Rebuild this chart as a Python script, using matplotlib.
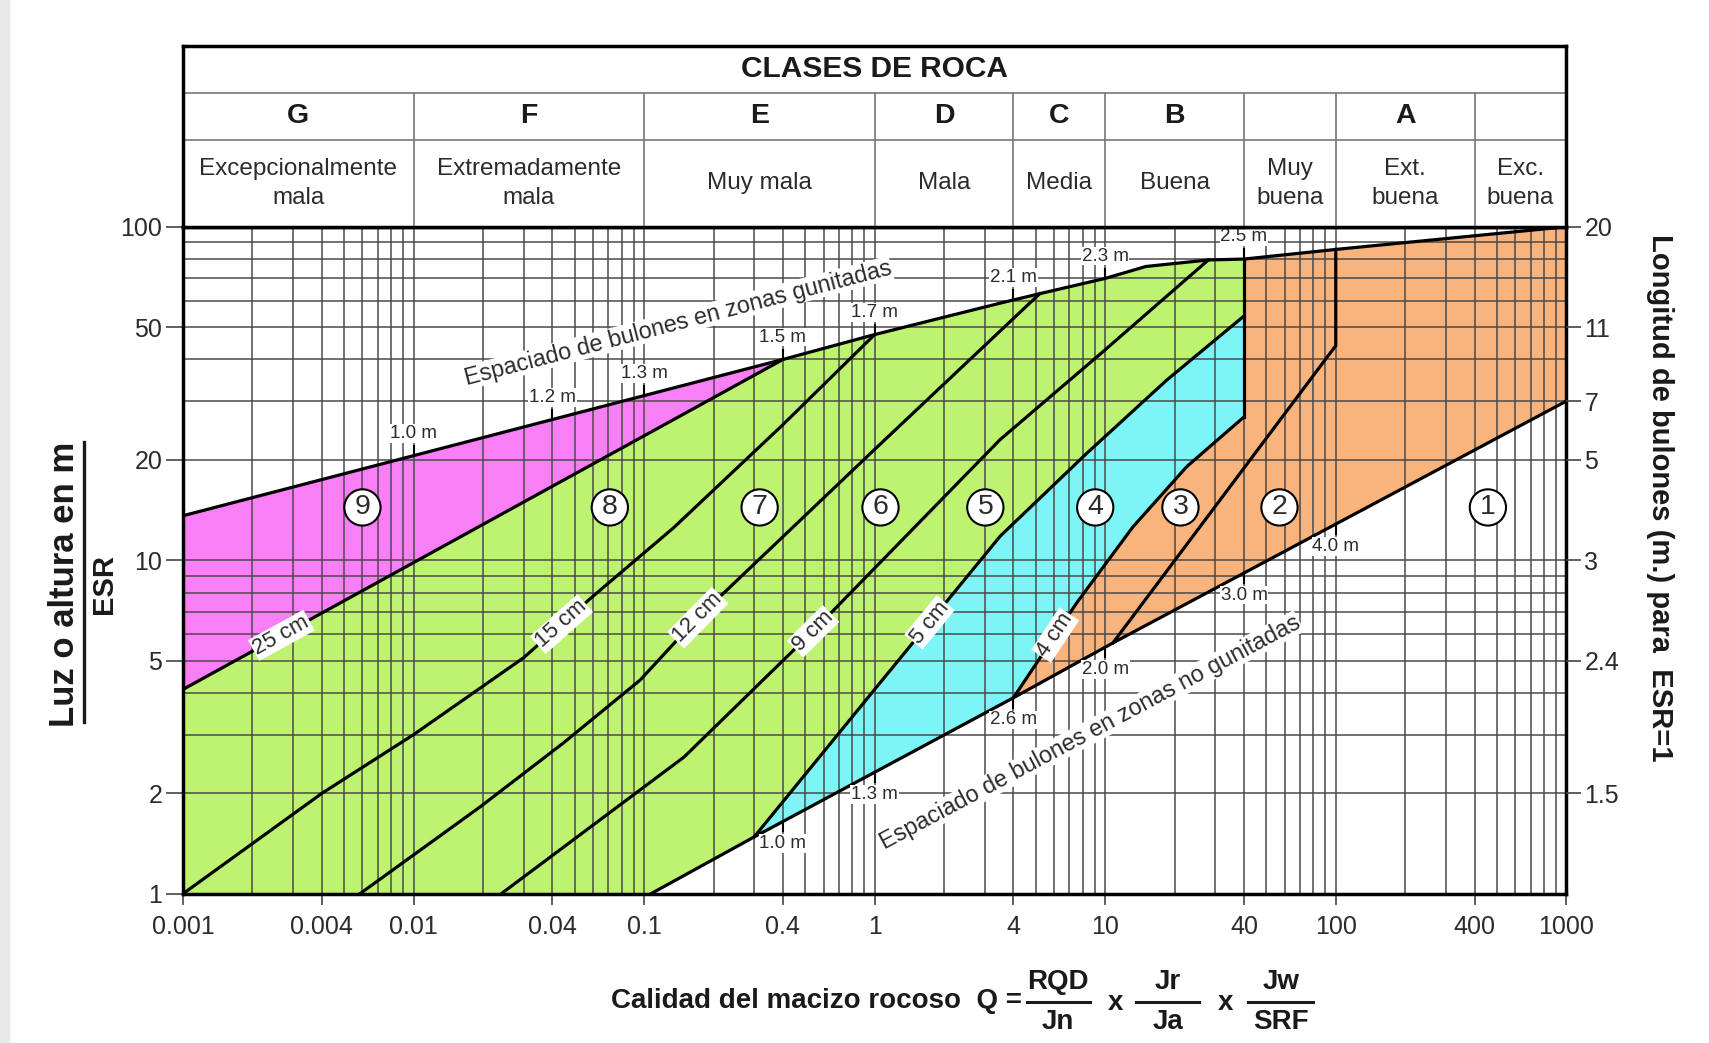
"""Abaco de sostenimiento de Barton (sistema Q) - recreacion con matplotlib."""

import matplotlib

matplotlib.use("Agg")

import matplotlib.pyplot as plt
import numpy as np
from matplotlib.lines import Line2D
from matplotlib.patches import Rectangle
from matplotlib.ticker import NullLocator, FixedLocator

plt.rcParams["font.family"] = ["Liberation Sans", "DejaVu Sans"]

TOP_Q = [0.001, 0.4, 1, 3.5, 5.2, 10, 15, 28, 40, 100, 1000]
TOP_S = [13.6, 40, 47.5, 59, 63, 70, 76, 79.5, 80, 85.5, 100]
BOT_Q = [0.107, 0.3, 4, 10.8, 1000]
BOT_S = [1, 1.48, 3.87, 5.65, 30]
L25_Q = [0.001, 0.4]
L25_S = [4.1, 40]
L15_Q = [0.001, 0.004, 0.01, 0.03, 0.06, 0.134, 0.4, 1]
L15_S = [1, 2.0, 3.0, 5.1, 7.8, 12.5, 25.5, 47.5]
L12_Q = [0.00585, 0.0194, 0.0446, 0.096, 0.17, 1, 5.2]
L12_S = [1, 1.82, 2.83, 4.37, 6.7, 21.5, 63]
L9_Q = [0.024, 0.149, 0.55, 3.5, 9.7, 28]
L9_S = [1, 2.57, 6.2, 23, 42, 79.5]
L5_Q = [0.3, 1.0, 3.5, 8.3, 18.5, 40]
L5_S = [1.48, 4.1, 11.8, 20.9, 34.7, 54]
L4_Q = [4, 7.5, 13.2, 22.6, 40]
L4_S = [3.87, 7.43, 12.6, 19.1, 26.9]
L32_Q = [10.8, 100, 100]
L32_S = [5.65, 44, 85.5]

THICK_LABELS = ["25 cm", "15 cm", "12 cm", "9 cm", "5 cm", "4 cm"]
THICK_Q = [0.00267, 0.0438, 0.171, 0.54, 1.73, 6.07]

SP_TOP_Q = [0.01, 0.04, 0.1, 0.4, 1, 4, 10, 40]
SP_TOP = ["1.0 m", "1.2 m", "1.3 m", "1.5 m", "1.7 m", "2.1 m", "2.3 m", "2.5 m"]
SP_BOT_Q = [0.4, 1, 4, 10, 40, 100]
SP_BOT = ["1.0 m", "1.3 m", "2.6 m", "2.0 m", "3.0 m", "4.0 m"]

REG_NUM = ["9", "8", "7", "6", "5", "4", "3", "2", "1"]
REG_Q = [0.006, 0.071, 0.317, 1.06, 3.02, 9.05, 21.2, 57, 457]
REG_S = [14.4] * 9

CLASS_EDGES = [0.001, 0.01, 0.1, 1, 4, 10, 40, 100, 400, 1000]
CLASS_LETTERS = ["G", "F", "E", "D", "C", "B", "", "A", ""]
CLASS_NAMES = ["Excepcionalmente\nmala", "Extremadamente\nmala", "Muy mala", "Mala",
               "Media", "Buena", "Muy\nbuena", "Ext.\nbuena", "Exc.\nbuena"]

X_TICKS = [0.001, 0.004, 0.01, 0.04, 0.1, 0.4, 1, 4, 10, 40, 100, 400, 1000]
X_TICKLABELS = ["0.001", "0.004", "0.01", "0.04", "0.1", "0.4", "1", "4", "10",
                "40", "100", "400", "1000"]
Y_TICKS = [1, 2, 5, 10, 20, 50, 100]
R_TICKS = [2, 5, 10, 20, 30, 50, 100]
R_TICKLABELS = ["1.5", "2.4", "3", "5", "7", "11", "20"]

MAGENTA = "#f87ff6"
GREEN = "#bdf370"
CYAN = "#7df4f6"
ORANGE = "#f8b47c"
GRID = "#4a4a4a"
TXT = "#2b2b2b"

W, H = 1709, 1043
fig = plt.figure(figsize=(W / 100, H / 100), dpi=100)
fig.patches.append(Rectangle((0, 0), 9 / W, 1, transform=fig.transFigure,
                             color="#e9e9e9", zorder=0))

ax = fig.add_axes([0.1071, 0.1431, 0.8094, 0.6395])
ax.set_xscale("log")
ax.set_yscale("log")
ax.set_xlim(0.001, 1000)
ax.set_ylim(1, 100)


def on_line(qs, ss, q):
    return 10 ** np.interp(np.log10(q), np.log10(qs), np.log10(ss))


def angle_on(qs, ss, q, f=1.15):
    p0 = ax.transData.transform((q / f, on_line(qs, ss, q / f)))
    p1 = ax.transData.transform((q * f, on_line(qs, ss, q * f)))
    return np.degrees(np.arctan2(p1[1] - p0[1], p1[0] - p0[0]))


# rejilla logaritmica
for k in range(-3, 3):
    for m in range(1, 10):
        ax.axvline(m * 10.0 ** k, color=GRID, lw=1.1, zorder=1.5)
for k in range(0, 2):
    for m in range(1, 10):
        ax.axhline(m * 10.0 ** k, color=GRID, lw=1.1, zorder=1.5)

# zonas coloreadas
i40 = TOP_Q.index(40)
ax.fill(TOP_Q[:2] + L25_Q[::-1], TOP_S[:2] + L25_S[::-1], color=MAGENTA, lw=0, zorder=1)
ax.fill(L25_Q + TOP_Q[2:i40 + 1] + L5_Q[::-1] + BOT_Q[1::-1] + [0.001],
        L25_S + TOP_S[2:i40 + 1] + L5_S[::-1] + BOT_S[1::-1] + [1],
        color=GREEN, lw=0, zorder=1)
ax.fill(L5_Q + L4_Q[::-1] + BOT_Q[2:0:-1], L5_S + L4_S[::-1] + BOT_S[2:0:-1],
        color=CYAN, lw=0, zorder=1)
ax.fill(L4_Q + TOP_Q[i40:] + BOT_Q[:1:-1], L4_S + TOP_S[i40:] + BOT_S[:1:-1],
        color=ORANGE, lw=0, zorder=1)

# lineas de separacion
line_kw = dict(color="black", lw=2.3, zorder=3, solid_joinstyle="miter")
for qs, ss in [(TOP_Q, TOP_S), (BOT_Q, BOT_S), (L25_Q, L25_S), (L15_Q, L15_S),
               (L12_Q, L12_S), (L9_Q, L9_S), (L5_Q, L5_S), (L4_Q, L4_S),
               (L32_Q, L32_S)]:
    ax.plot(qs, ss, **line_kw)
ax.plot([L4_Q[-1], TOP_Q[i40]], [L4_S[-1], TOP_S[i40]], **line_kw)

# espesores de gunita
for lbl, q, (qs, ss) in zip(THICK_LABELS, THICK_Q,
                            [(L25_Q, L25_S), (L15_Q, L15_S), (L12_Q, L12_S),
                             (L9_Q, L9_S), (L5_Q, L5_S), (L4_Q, L4_S)]):
    ax.text(q, on_line(qs, ss, q), lbl, rotation=angle_on(qs, ss, q),
            rotation_mode="anchor", ha="center", va="center", fontsize=16,
            color=TXT, zorder=5,
            bbox=dict(boxstyle="square,pad=0.06", fc="white", ec="none"))

# espaciados de bulones
for lbl, q in zip(SP_TOP, SP_TOP_Q):
    s = on_line(TOP_Q, TOP_S, q)
    ax.plot([q, q], [s, s * 1.07], color="black", lw=1.5, zorder=3)
    ax.annotate(lbl, (q, s), xytext=(0, 16), textcoords="offset points",
                ha="center", va="center", fontsize=13.5, color=TXT, zorder=5,
                bbox=dict(boxstyle="square,pad=0.04", fc="white", ec="none"))
for lbl, q in zip(SP_BOT, SP_BOT_Q):
    s = on_line(BOT_Q, BOT_S, q)
    ax.plot([q, q], [s / 1.07, s], color="black", lw=1.5, zorder=3)
    ax.annotate(lbl, (q, s), xytext=(0, -16), textcoords="offset points",
                ha="center", va="center", fontsize=13.5, color=TXT, zorder=5,
                bbox=dict(boxstyle="square,pad=0.04", fc="white", ec="none"))

ax.text(0.14, 51.5, "Espaciado de bulones en zonas gunitadas",
        rotation=angle_on(TOP_Q, TOP_S, 0.1), rotation_mode="anchor",
        ha="center", va="center", fontsize=16.8, color=TXT, zorder=5,
        bbox=dict(boxstyle="square,pad=0.02", fc="white", ec="none"))
ax.text(8.6, 3.05, "Espaciado de bulones en zonas no gunitadas",
        rotation=angle_on(BOT_Q, BOT_S, 40), rotation_mode="anchor",
        ha="center", va="center", fontsize=16.8, color=TXT, zorder=5,
        bbox=dict(boxstyle="square,pad=0.02", fc="white", ec="none"))

# categorias de sostenimiento
for n, q, s in zip(REG_NUM, REG_Q, REG_S):
    ax.text(q, s, n, ha="center", va="center", fontsize=20.5, color=TXT, zorder=6,
            bbox=dict(boxstyle="circle,pad=0.18", fc="white", ec="black", lw=1.5))

# ejes
for sp in ax.spines.values():
    sp.set_linewidth(2.5)
    sp.set_zorder(7)
ax.xaxis.set_major_locator(FixedLocator(X_TICKS))
ax.set_xticklabels(X_TICKLABELS)
ax.yaxis.set_major_locator(FixedLocator(Y_TICKS))
ax.set_yticklabels([str(v) for v in Y_TICKS])
ax.xaxis.set_minor_locator(NullLocator())
ax.yaxis.set_minor_locator(NullLocator())
ax.tick_params(axis="x", length=8, width=1.2, pad=7, labelsize=18,
               color="#444", labelcolor=TXT)
ax.tick_params(axis="y", length=12, width=1.2, pad=3, labelsize=18,
               color="#444", labelcolor=TXT)

rax = ax.twinx()
rax.set_yscale("log")
rax.set_ylim(1, 100)
rax.yaxis.set_major_locator(FixedLocator(R_TICKS))
rax.set_yticklabels(R_TICKLABELS)
rax.yaxis.set_minor_locator(NullLocator())
rax.tick_params(axis="y", length=11, width=1.2, pad=2, labelsize=18,
                color="#444", labelcolor=TXT)
for sp in rax.spines.values():
    sp.set_visible(False)

# cabecera de clases de roca
hd = fig.add_axes([0.1071, 0.7826, 0.8094, 0.1735])
hd.set_xscale("log")
hd.set_xlim(0.001, 1000)
hd.set_ylim(0, 1)
hd.xaxis.set_major_locator(NullLocator())
hd.xaxis.set_minor_locator(NullLocator())
hd.set_yticks([])
for sp in hd.spines.values():
    sp.set_linewidth(2.5)
hd.axhline(0.741, color="#777", lw=1.2)
hd.axhline(0.482, color="#777", lw=1.2)
hd.vlines(CLASS_EDGES[1:-1], 0, 0.741, color="#777", lw=1.2)
hd.text(1, 0.87, "CLASES DE ROCA", ha="center", va="center", fontsize=21.5,
        fontweight="bold", color="#1a1a1a")
for lo, hi, let, name in zip(CLASS_EDGES[:-1], CLASS_EDGES[1:], CLASS_LETTERS,
                             CLASS_NAMES):
    xc = np.sqrt(lo * hi)
    hd.text(xc, 0.61, let, ha="center", va="center", fontsize=20.5,
            fontweight="bold", color="#1a1a1a")
    hd.text(xc, 0.241, name, ha="center", va="center", fontsize=17.5,
            color=TXT, linespacing=1.4)

# titulos de ejes (coordenadas en pixeles de la figura)
def fx(x):
    return x / W


def fy(y):
    return 1 - y / H


bold = dict(fontweight="bold", color="#1a1a1a")
fig.text(fx(65), fy(584), "Luz o altura en m", rotation=90, ha="center",
         va="center", fontsize=25, **bold)
fig.lines.append(Line2D([fx(84), fx(84)], [fy(442), fy(722)],
                        transform=fig.transFigure, color="#1a1a1a", lw=2.4))
fig.text(fx(104), fy(584), "ESR", rotation=90, ha="center", va="center",
         fontsize=21, **bold)
fig.text(fx(1660), fy(498), "Longitud de bulones (m.) para  ESR=1", rotation=-90,
         ha="center", va="center", fontsize=21, **bold)

fig.text(fx(1022), fy(1001), "Calidad del macizo rocoso  Q =", ha="right",
         va="center", fontsize=20, **bold)
for xc, num, den, x0, x1 in [(1058, "RQD", "Jn", 1027, 1090),
                             (1168, "Jr", "Ja", 1136, 1199),
                             (1281, "Jw", "SRF", 1248, 1313)]:
    fig.text(fx(xc), fy(982), num, ha="center", va="center", fontsize=20, **bold)
    fig.text(fx(xc), fy(1022), den, ha="center", va="center", fontsize=20, **bold)
    fig.lines.append(Line2D([fx(x0), fx(x1)], [fy(1002), fy(1002)],
                            transform=fig.transFigure, color="#1a1a1a", lw=2.2))
for xc in (1115, 1226):
    fig.text(fx(xc), fy(1003), "x", ha="center", va="center", fontsize=20, **bold)

fig.savefig("out.png", dpi=100)
